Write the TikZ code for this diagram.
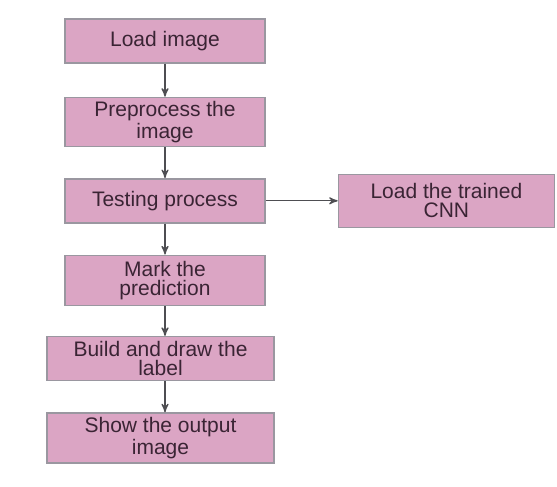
\documentclass[tikz,border=0pt]{standalone}
\usepackage{fontspec}
\setmainfont{Liberation Sans}
\usepackage{tikz}
\usetikzlibrary{arrows,positioning,shapes}
\definecolor{boxpink}{HTML}{DBA5C4}
\definecolor{boxgrey}{HTML}{9A97A0}
\definecolor{boxtext}{HTML}{3A2434}
\definecolor{linegrey}{HTML}{4E4E52}
\tikzset{
    %Define standard arrow tip
    >=stealth',
    %Define style for boxes
    stepnode/.style={
             rectangle,
             draw=boxgrey, line width=0.7pt,
             fill=boxpink,
             text=boxtext,
             align=center,
             inner ysep=1pt,
             minimum width=100pt,
             minimum height=22pt,
             font=\fontsize{10.5}{9.5}\selectfont},
    widenode/.style={
             stepnode,
             minimum width=113.5pt,
             minimum height=25pt},
    % Define arrow style
    flowarrow/.style={
            ->,
            draw=linegrey,
            line width=0.6pt}
}
\begin{document}
\begin{tikzpicture}[node distance=16pt]
 \useasboundingbox[fill=white] (0,0) rectangle (278.5pt,-243.5pt);
 \node[stepnode] (load) at (82.5pt,-20.5pt) {Load image};
 \node[stepnode, minimum height=24.5pt, below=16.5pt of load] (prep) {Preprocess the\\image};
 \node[stepnode, below=15.5pt of prep] (test) {Testing process};
 \node[stepnode, minimum width=108pt, minimum height=26.5pt, right=36pt of test] (cnn) {Load the trained\\CNN};
 \node[stepnode, minimum height=25pt, below=15.5pt of test] (mark) {Mark the\\prediction};
 \node[widenode, minimum height=22pt, below=15pt of mark, xshift=-2.25pt] (build) {Build and draw the\\label};
 \node[widenode, below=15.5pt of build] (show) {Show the output\\image};
 \draw[flowarrow] (load) -- (prep);
 \draw[flowarrow] (prep) -- (test);
 \draw[flowarrow] (test) -- (cnn);
 \draw[flowarrow] (test) -- (mark);
 \draw[flowarrow] (mark.south) -- (mark.south |- build.north);
 \draw[flowarrow] (build.south -| mark.south) -- (show.north -| mark.south);
\end{tikzpicture}
\end{document}
